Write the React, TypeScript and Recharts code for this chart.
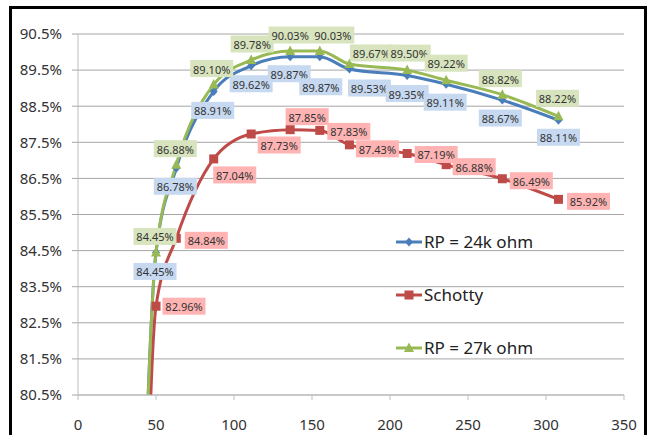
import React from 'react';
import { LineChart, Line, XAxis, YAxis, CartesianGrid, Legend, LabelList } from 'recharts';

// x values (load) shared by the three curves; the first point lies below the axis
const loads = [40, 50, 63, 87, 111, 136, 155, 174, 211, 236, 272, 308];
const rp24k = [74.0, 84.45, 86.78, 88.91, 89.62, 89.87, 89.87, 89.53, 89.35, 89.11, 88.67, 88.11];
const schotty = [70.0, 82.96, 84.84, 87.04, 87.73, 87.85, 87.83, 87.43, 87.19, 86.88, 86.49, 85.92];
const rp27k = [74.0, 84.45, 86.88, 89.1, 89.78, 90.03, 90.03, 89.67, 89.5, 89.22, 88.82, 88.22];

const xTicks = [0, 50, 100, 150, 200, 250, 300, 350];
const yTicks = [80.5, 81.5, 82.5, 83.5, 84.5, 85.5, 86.5, 87.5, 88.5, 89.5, 90.5];
const Y_MIN = 80.5;
const Y_MAX = 90.5;

// label placement (dx, dy from the point to the label centre)
const rp24kLabelPos = [[0, 0], [-1, 19], [-1, 18], [-1, 19], [0, 18], [-1, 17], [1, 30], [20, 19], [0, 18], [-1, 18], [-2, 18], [0, 17]];
const schottyLabelPos = [[0, 0], [28, 0], [30, 2], [21, 16], [28, 11], [17, -13], [29, 1], [28, 4], [29, 1], [28, 2], [29, 2], [30, 2]];
const rp27kLabelPos = [[0, 0], [-1, -16], [-1, -16], [-2, -16], [1, -16], [0, -16], [13, -16], [22, -11], [2, -17], [0, -17], [-2, -16], [-1, -18]];

const data = loads.map((x, i) => ({
  x,
  rp24k: rp24k[i],
  schotty: schotty[i],
  rp27k: rp27k[i],
}));

type Shape = 'diamond' | 'square' | 'triangle';

const series = [
  { key: 'rp24k', name: 'RP = 24k ohm', color: '#4a7ebb', box: '#c6d9f1', shape: 'diamond' as Shape, pos: rp24kLabelPos },
  { key: 'schotty', name: 'Schotty', color: '#be4b48', box: '#ffb3b3', shape: 'square' as Shape, pos: schottyLabelPos },
  { key: 'rp27k', name: 'RP = 27k ohm', color: '#98b954', box: '#d7e4bd', shape: 'triangle' as Shape, pos: rp27kLabelPos },
];

function Marker({ cx, cy, shape, color }: { cx: number; cy: number; shape: Shape; color: string }) {
  if (shape === 'diamond') {
    return <path d={`M${cx},${cy - 4.5}L${cx + 4},${cy}L${cx},${cy + 4.5}L${cx - 4},${cy}Z`} fill={color} />;
  }
  if (shape === 'square') {
    return <rect x={cx - 4.5} y={cy - 4.5} width={9} height={9} fill={color} />;
  }
  return <path d={`M${cx},${cy - 5.5}L${cx + 5},${cy + 4}L${cx - 5},${cy + 4}Z`} fill={color} />;
}

const makeDot = (shape: Shape, color: string) => (props: any) => {
  const { cx, cy, index, value } = props;
  if (value == null || value < Y_MIN || cx == null) return <g key={`d${index}`} />;
  return (
    <g key={`d${index}`}>
      <Marker cx={cx} cy={cy} shape={shape} color={color} />
    </g>
  );
};

const makeLabel = (pos: number[][], box: string) => (props: any) => {
  const { x, y, value, index } = props;
  if (value == null || value < Y_MIN) return null;
  const [dx, dy] = pos[index] || [0, 0];
  const cx = x + dx;
  const cy = y + dy;
  return (
    <g key={`l${index}`}>
      <rect x={cx - 21.5} y={cy - 8.5} width={43} height={17} fill={box} />
      <text
        x={cx}
        y={cy + 0.5}
        textAnchor="middle"
        dominantBaseline="central"
        fontSize={11}
        fill="#333"
      >
        {Number(value).toFixed(2)}%
      </text>
    </g>
  );
};

function LegendContent() {
  return (
    <div>
      {series.map((s) => (
        <div key={s.key} style={{ height: 53, display: 'flex', alignItems: 'center' }}>
          <svg width={27} height={14}>
            <line x1={0} y1={7} x2={26} y2={7} stroke={s.color} strokeWidth={3} />
            <Marker cx={13} cy={7} shape={s.shape} color={s.color} />
          </svg>
          <span style={{ fontSize: 17, color: '#222', marginLeft: 1 }}>{s.name}</span>
        </div>
      ))}
    </div>
  );
}

export default function App() {
  return (
    <div
      style={{
        position: 'absolute',
        left: 0,
        top: 0,
        width: 651,
        height: 435,
        overflow: 'hidden',
        background: '#fff',
        fontFamily: '"Noto Sans", sans-serif',
      }}
    >
      <div
        style={{
          position: 'absolute',
          left: 9,
          top: 6,
          width: 632,
          height: 440,
          border: '3px solid #000',
        }}
      />
      <div style={{ position: 'absolute', left: 0, top: 0 }}>
        <LineChart
          width={651}
          height={435}
          data={data}
          margin={{ top: 34, right: 27, bottom: 10, left: 10 }}
        >
          <CartesianGrid vertical={false} stroke="#a6a6a6" strokeWidth={1} />
          <XAxis
            dataKey="x"
            type="number"
            domain={[0, 350]}
            ticks={xTicks}
            height={30}
            tickSize={5}
            tickMargin={19}
            stroke="#bfbfbf"
            tick={{ fill: '#333', fontSize: 15 }}
          />
          <YAxis
            type="number"
            domain={[Y_MIN, Y_MAX]}
            allowDataOverflow
            ticks={yTicks}
            width={68}
            tickSize={6}
            tickMargin={10}
            stroke="#bfbfbf"
            tickLine={{ stroke: '#a6a6a6' }}
            tick={{ fill: '#333', fontSize: 15 }}
            tickFormatter={(v: number) => `${v.toFixed(1)}%`}
          />
          <Legend
            layout="vertical"
            align="center"
            verticalAlign="middle"
            content={<LegendContent />}
            wrapperStyle={{ left: 396, top: 215, width: 200 }}
          />
          {series.map((s) => (
            <Line
              key={s.key}
              dataKey={s.key}
              name={s.name}
              type="monotone"
              stroke={s.color}
              strokeWidth={3}
              dot={makeDot(s.shape, s.color)}
              activeDot={false}
              isAnimationActive={false}
            >
              <LabelList dataKey={s.key} content={makeLabel(s.pos, s.box)} />
            </Line>
          ))}
        </LineChart>
      </div>
    </div>
  );
}
